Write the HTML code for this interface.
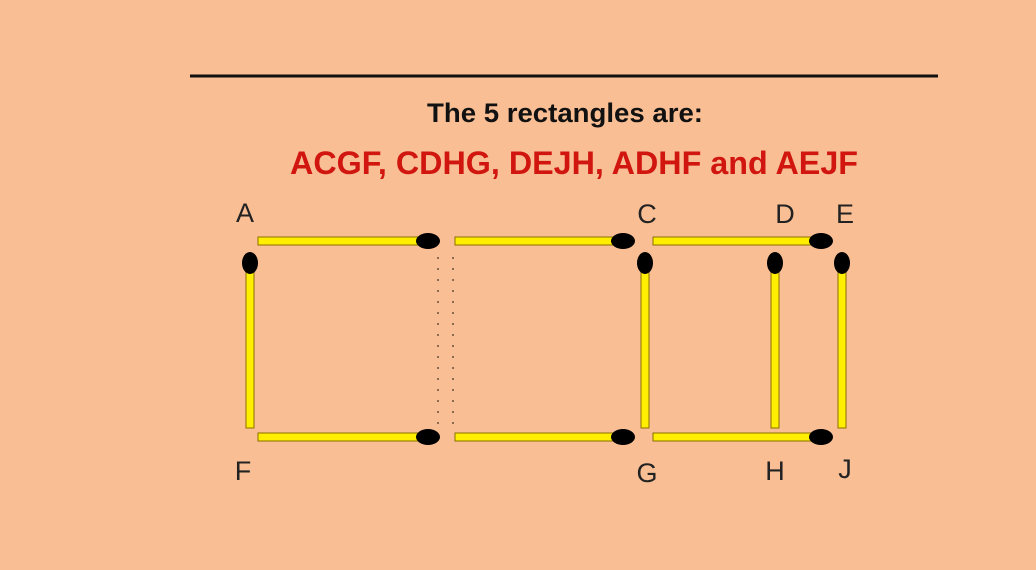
<!DOCTYPE html>
<html><head><style>
body{margin:0;background:#f9be94;}
svg{display:block}
</style></head><body>
<svg width="1036" height="570" xmlns="http://www.w3.org/2000/svg">
<rect width="1036" height="570" fill="#f9be94"/>
<line x1="190" y1="76" x2="938" y2="76" stroke="#111" stroke-width="3"/>
<text x="565" y="122" text-anchor="middle" font-family="Liberation Sans, sans-serif" font-weight="bold" font-size="27" fill="#111" textLength="276" lengthAdjust="spacingAndGlyphs">The 5 rectangles are:</text>
<text x="574" y="174" text-anchor="middle" font-family="Liberation Sans, sans-serif" font-weight="bold" font-size="32" fill="#d0160f" textLength="568" lengthAdjust="spacingAndGlyphs">ACGF, CDHG, DEJH, ADHF and AEJF</text>
<g font-family="Liberation Sans, sans-serif" font-size="27" fill="#222" text-anchor="middle">
<text x="245" y="222">A</text><text x="647" y="223">C</text><text x="785" y="223">D</text><text x="845" y="223">E</text>
<text x="243" y="480">F</text><text x="647" y="482">G</text><text x="775" y="480">H</text><text x="845" y="478">J</text>
</g>
<g stroke="#8a7000" stroke-width="1" fill="#ffee00">
<rect x="258" y="237" width="168" height="8"/><rect x="455" y="237" width="165" height="8"/><rect x="653" y="237" width="165" height="8"/>
<rect x="258" y="433" width="168" height="8"/><rect x="455" y="433" width="165" height="8"/><rect x="653" y="433" width="165" height="8"/>
<rect x="246" y="266" width="8" height="162"/><rect x="641" y="266" width="8" height="162"/><rect x="771" y="266" width="8" height="162"/><rect x="838" y="266" width="8" height="162"/>
</g>
<g fill="#000">
<ellipse cx="428" cy="241" rx="12" ry="8"/><ellipse cx="623" cy="241" rx="12" ry="8"/><ellipse cx="821" cy="241" rx="12" ry="8"/>
<ellipse cx="428" cy="437" rx="12" ry="8"/><ellipse cx="623" cy="437" rx="12" ry="8"/><ellipse cx="821" cy="437" rx="12" ry="8"/>
<ellipse cx="250" cy="263" rx="8" ry="11"/><ellipse cx="645" cy="263" rx="8" ry="11"/><ellipse cx="775" cy="263" rx="8" ry="11"/><ellipse cx="842" cy="263" rx="8" ry="11"/>
</g>
<g stroke="#8a6a50" stroke-width="2" stroke-dasharray="2,9">
<line x1="438" y1="257" x2="438" y2="432"/><line x1="453" y1="257" x2="453" y2="432"/>
</g>
</svg>
</body></html>
